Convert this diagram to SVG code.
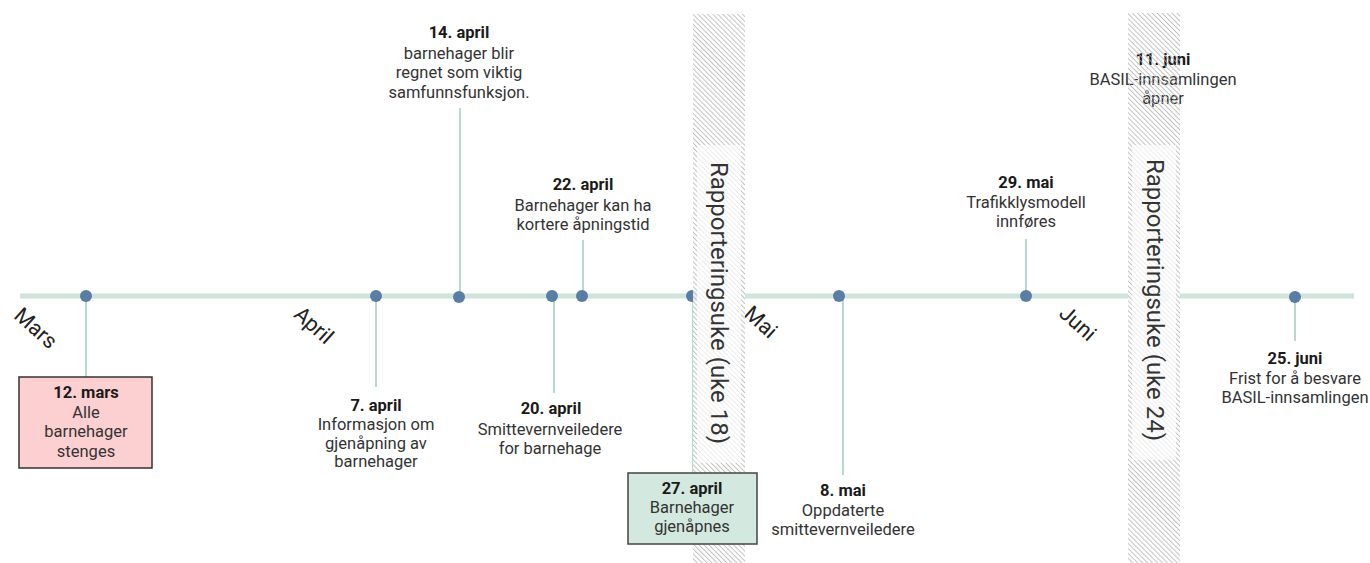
<svg xmlns="http://www.w3.org/2000/svg" width="1370" height="563" viewBox="0 0 1370 563">
<style>
text{font-family:Roboto,"Liberation Sans",sans-serif;fill:#333;font-size:16.5px;text-anchor:middle}
.b{font-weight:700;fill:#1a1a1a}
.m{font-size:21.5px;fill:#222}
.r{font-size:24px;fill:#333}
.tl{stroke:#cfe4da;stroke-width:5}
.c{stroke:#9fcdbf;stroke-width:1.5}
.d{fill:#5a7da5}
.bw{fill:#fff;opacity:0.85}
.bh{fill:url(#h)}
.bl{fill:#fff;opacity:0.7}
</style>
<defs>
<pattern id="h" patternUnits="userSpaceOnUse" width="3.5" height="3.5" patternTransform="rotate(-45)">
<line x1="0.5" y1="0" x2="0.5" y2="3.5" stroke="#b4b4b4" stroke-width="0.8"/>
</pattern>
</defs>
<rect width="1370" height="563" fill="#fff"/>
<g id="timeline">
<line class="tl" x1="20" y1="296" x2="1354" y2="296"/>
</g>
<g id="connectors">
<line class="c" x1="86" y1="296" x2="86" y2="377"/>
<line class="c" x1="376" y1="296" x2="376" y2="387"/>
<line class="c" x1="460" y1="108" x2="460" y2="296"/>
<line class="c" x1="554" y1="296" x2="554" y2="393"/>
<line class="c" x1="583" y1="240" x2="583" y2="296"/>
<line class="c" x1="693" y1="296" x2="693" y2="473"/>
<line class="c" x1="843" y1="296" x2="843" y2="475"/>
<line class="c" x1="1026" y1="239" x2="1026" y2="296"/>
<line class="c" x1="1295" y1="296" x2="1295" y2="341"/>
</g>
<g id="dots">
<circle class="d" cx="86" cy="296" r="6"/>
<circle class="d" cx="376" cy="296" r="6"/>
<circle class="d" cx="459" cy="297" r="6"/>
<circle class="d" cx="552" cy="296" r="6"/>
<circle class="d" cx="582" cy="296" r="6"/>
<circle class="d" cx="692" cy="296" r="6"/>
<circle class="d" cx="839" cy="296" r="6"/>
<circle class="d" cx="1026" cy="296" r="6"/>
<circle class="d" cx="1164" cy="296" r="6"/>
<circle class="d" cx="1295" cy="297" r="6"/>
</g>
<g id="months">
<text class="m" x="36" y="328" transform="rotate(42 36 328)" dominant-baseline="central">Mars</text>
<text class="m" x="314" y="325" transform="rotate(42 314 325)" dominant-baseline="central">April</text>
<text class="m" x="761" y="322" transform="rotate(42 761 322)" dominant-baseline="central">Mai</text>
<text class="m" x="1078" y="323" transform="rotate(42 1078 323)" dominant-baseline="central">Juni</text>
</g>
<g id="e-12-mars">
<rect x="19" y="377" width="133" height="91" fill="#fccfd1" stroke="#333" stroke-width="1.5"/>
<text class="b" x="86" y="398">12. mars</text>
<text x="86" y="418">Alle</text>
<text x="86" y="437">barnehager</text>
<text x="86" y="457">stenges</text>
</g>
<g id="e-7-april">
<text class="b" x="376" y="411">7. april</text>
<text x="376" y="430">Informasjon om</text>
<text x="376" y="449">gjenåpning av</text>
<text x="376" y="467">barnehager</text>
</g>
<g id="e-14-april">
<text class="b" x="459" y="38">14. april</text>
<text x="459" y="59">barnehager blir</text>
<text x="459" y="78">regnet som viktig</text>
<text x="459" y="98">samfunnsfunksjon.</text>
</g>
<g id="e-20-april">
<text class="b" x="551" y="414">20. april</text>
<text x="550" y="435">Smittevernveiledere</text>
<text x="550" y="454">for barnehage</text>
</g>
<g id="e-22-april">
<text class="b" x="583" y="190">22. april</text>
<text x="583" y="211">Barnehager kan ha</text>
<text x="583" y="230">kortere åpningstid</text>
</g>
<g id="e-8-mai">
<text class="b" x="843" y="496">8. mai</text>
<text x="843" y="516">Oppdaterte</text>
<text x="843" y="535">smittevernveiledere</text>
</g>
<g id="e-29-mai">
<text class="b" x="1026" y="188">29. mai</text>
<text x="1026" y="208">Trafikklysmodell</text>
<text x="1026" y="227">innføres</text>
</g>
<g id="band-uke-18">
<rect class="bw" x="693" y="14" width="52" height="549"/>
<rect class="bh" x="693" y="14" width="52" height="549"/>
<rect class="bl" x="697" y="145" width="44" height="318"/>
<text class="r" x="719" y="303" transform="rotate(90 719 303)" dominant-baseline="central">Rapporteringsuke (uke 18)</text>
</g>
<g id="band-uke-24">
<rect class="bw" x="1128" y="13" width="52" height="550"/>
</g>
<g id="e-11-juni">
<text class="b" x="1163" y="65">11. juni</text>
<text x="1163" y="85">BASIL-innsamlingen</text>
<text x="1163" y="104">åpner</text>
</g>
<g id="band-uke-24-hatch">
<rect class="bh" x="1128" y="13" width="52" height="550"/>
<rect class="bl" x="1132" y="145" width="44" height="315"/>
<text class="r" x="1155" y="300" transform="rotate(90 1155 300)" dominant-baseline="central">Rapporteringsuke (uke 24)</text>
</g>
<g id="e-25-juni">
<text class="b" x="1295" y="364">25. juni</text>
<text x="1295" y="384">Frist for å besvare</text>
<text x="1295" y="403">BASIL-innsamlingen</text>
</g>
<g id="e-27-april">
<rect x="628" y="473" width="129" height="71" fill="#d3e8de" stroke="#444" stroke-width="1.5"/>
<text class="b" x="692" y="494">27. april</text>
<text x="692" y="513">Barnehager</text>
<text x="692" y="532">gjenåpnes</text>
</g>
</svg>
